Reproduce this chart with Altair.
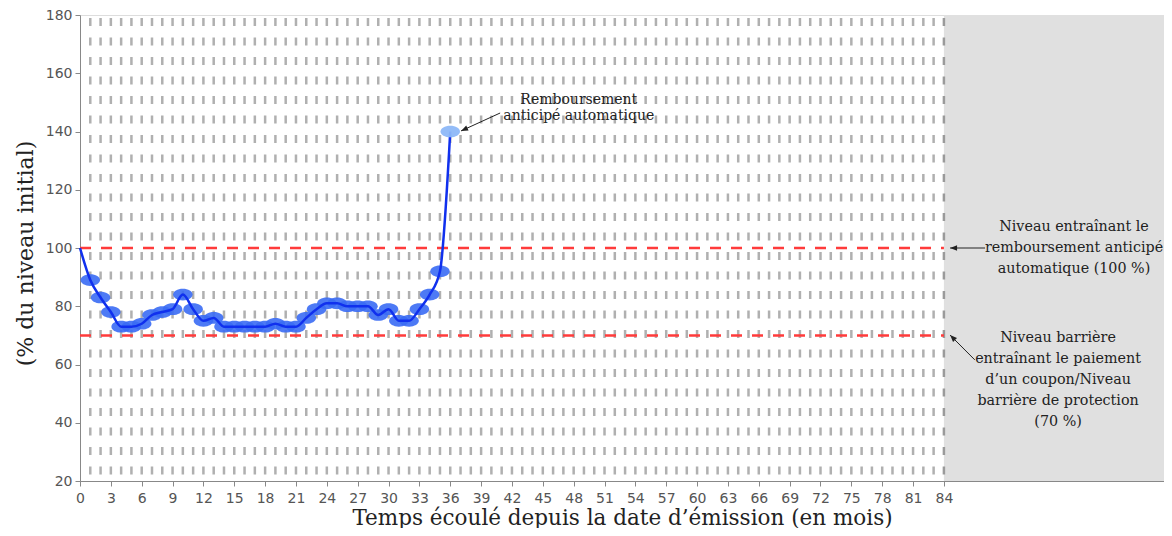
import altair as alt
import pandas as pd

# ---------------- data ----------------
months = list(range(0, 37))
levels = [100, 89, 83, 78, 73, 73, 74, 77, 78, 79, 84, 79, 75, 76, 73, 73, 73,
          73, 73, 74, 73, 73, 76, 79, 81, 81, 80, 80, 80, 77, 79, 75, 75, 79,
          84, 92, 140]
x_ticks = list(range(0, 85, 3))
y_ticks = list(range(20, 181, 20))
grid_months = list(range(1, 84))
maturity = 84
x_max = 105.4
thresholds = [100, 70]

ann_texts = [
    "Remboursement\nanticipé automatique",
    "Niveau entraînant le\nremboursement anticipé\nautomatique (100 %)",
    "Niveau barrière\nentraînant le paiement\nd’un coupon/Niveau\nbarrière de protection\n(70 %)",
]
ann_x = [48.5, 96.65, 95.1]
ann_y = [150.8, 107.2, 69.1]   # position of each text's first line

arrow_from_x = [40.85, 88.0, 87.0]
arrow_from_y = [146.35, 100.0, 61.6]
arrow_to_x = [37.05, 84.6, 84.6]
arrow_to_y = [140.2, 100.0, 70.1]
arrow_angle = [245.2, 270.0, 315.0]

# ---------------- layout ----------------
W, H = 1084, 466
XS = alt.Scale(domain=[0, x_max], nice=False, zero=False)
YS = alt.Scale(domain=[20, 180], nice=False, zero=False)

XTITLE = "Temps écoulé depuis la date d’émission (en mois)"
YTITLE = "(% du niveau initial)"

xax = alt.Axis(values=x_ticks, title=XTITLE, grid=False, labelFont="DejaVu Sans",
               labelFontSize=14, labelColor="#555555", tickColor="#888888",
               domainColor="#888888", tickSize=5, labelPadding=5,
               titleFont="DejaVu Serif", titleFontSize=21.5, titleFontWeight="normal",
               titleColor="#222222", titleBaseline="alphabetic", titleY=43,
               labelFlush=False)
yax = alt.Axis(values=y_ticks, title=YTITLE, grid=False, labelFont="DejaVu Sans",
               labelFontSize=14, labelColor="#555555", tickColor="#888888",
               domainColor="#888888", tickSize=5, labelPadding=3,
               titleFont="DejaVu Serif", titleFontSize=22, titleFontWeight="normal",
               titleColor="#222222", titleAngle=270, titleX=-55, titleY=238,
               titleAlign="center", titleBaseline="middle")


def X(f):
    return alt.X(f, type="quantitative", scale=XS, axis=xax)


def Y(f):
    return alt.Y(f, type="quantitative", scale=YS, axis=yax)


series = pd.DataFrame({"m": months, "v": levels})
pts = series[(series.m >= 1) & (series.m <= 35)]
last = series[series.m == 36]

shade = alt.Chart(pd.DataFrame({"a": [maturity], "b": [x_max]})).mark_rect(
    color="#e0e0e0").encode(x=X("a"), x2="b", y=alt.value(0), y2=alt.value(H))

grid = alt.Chart(pd.DataFrame({"m": grid_months, "lo": 20, "hi": 180})).mark_rule(
    color="#b0b0b0", strokeWidth=2.5, strokeDash=[8, 11.5], strokeDashOffset=16.5
).encode(x=X("m"), y=Y("hi"), y2="lo")

grid84 = alt.Chart(pd.DataFrame({"m": [maturity], "lo": 20, "hi": 180})).mark_rule(
    color="#9a9a9a", strokeWidth=2.5, strokeDash=[8, 11.5], strokeDashOffset=16.5
).encode(x=X("m"), y=Y("hi"), y2="lo")

red = alt.Chart(pd.DataFrame({"v": thresholds, "a": 0, "b": maturity})).mark_rule(
    color="#ff3b3b", strokeWidth=2.5, strokeDash=[11, 10]
).encode(x=X("a"), x2="b", y=Y("v"))

ELLIPSE = ("M -1 0 C -1 -0.331 -0.552 -0.6 0 -0.6 C 0.552 -0.6 1 -0.331 1 0 "
           "C 1 0.331 0.552 0.6 0 0.6 C -0.552 0.6 -1 0.331 -1 0 Z")

points = alt.Chart(pts).mark_point(
    shape=ELLIPSE, filled=True, size=380, color="#3a6cf4", opacity=0.9, strokeWidth=0
).encode(x=X("m"), y=Y("v"))

line = alt.Chart(series).mark_line(
    color="#1030ee", strokeWidth=2.5, interpolate="monotone"
).encode(x=X("m"), y=Y("v"))

lastpt = alt.Chart(last).mark_point(
    shape=ELLIPSE, filled=True, size=380, color="#8db8f8", opacity=0.95, strokeWidth=0
).encode(x=X("m"), y=Y("v"))

arrows_df = pd.DataFrame({"x1": arrow_from_x, "y1": arrow_from_y,
                          "x2": arrow_to_x, "y2": arrow_to_y, "ang": arrow_angle})
arrow_lines = alt.Chart(arrows_df).mark_rule(color="#222222", strokeWidth=1).encode(
    x=X("x1"), y=Y("y1"), x2="x2", y2="y2")
ARROWHEAD = "M 0 0 L -0.4 1 L 0.4 1 Z"
arrow_heads = alt.Chart(arrows_df).mark_point(
    shape=ARROWHEAD, filled=True, size=196, color="#222222", opacity=1, strokeWidth=0
).encode(x=X("x2"), y=Y("y2"), angle=alt.Angle("ang:Q", scale=None))

texts_df = pd.DataFrame({"t": ann_texts, "x": ann_x, "y": ann_y})
text1 = alt.Chart(texts_df.iloc[[0]]).mark_text(
    font="DejaVu Serif", fontSize=14, lineBreak="\n", align="center",
    baseline="middle", lineHeight=15.5, color="#222222"
).encode(x=X("x"), y=Y("y"), text="t:N")
text2 = alt.Chart(texts_df.iloc[[1, 2]]).mark_text(
    font="DejaVu Serif", fontSize=14.3, lineBreak="\n", align="center",
    baseline="middle", lineHeight=21, color="#222222"
).encode(x=X("x"), y=Y("y"), text="t:N")

chart = alt.layer(
    shade, grid, grid84, red, points, line, lastpt, arrow_lines, arrow_heads, text1, text2
).properties(
    width=W, height=H,
    autosize=alt.AutoSizeParams(type="none"),
    padding={"left": 72, "top": 7, "right": 0, "bottom": 47},
).configure_view(stroke="#888888", strokeWidth=1).configure(background="white")

chart.save("out.html", embed_options={"renderer": "svg", "actions": False})
